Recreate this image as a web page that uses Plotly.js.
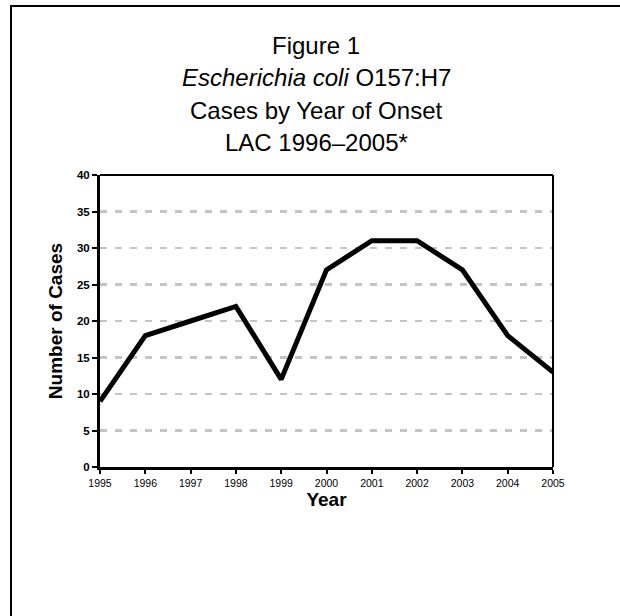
<!DOCTYPE html>
<html>
<head>
<meta charset="utf-8">
<script src="https://cdn.plot.ly/plotly-3.0.1.min.js"></script>
<style>
  html, body { margin: 0; padding: 0; background: #fff; overflow: hidden; }
  #wrap { position: relative; width: 620px; height: 616px; }
  #chart { width: 620px; height: 616px; }
  #frame { position: absolute; left: 10px; top: 5px; width: 700px; height: 700px;
           border: 2px solid #000; pointer-events: none; }
</style>
</head>
<body>
<div id="wrap">
  <div id="chart"></div>
  <div id="frame"></div>
</div>
<script>
const years = [1995, 1996, 1997, 1998, 1999, 2000, 2001, 2002, 2003, 2004, 2005];
const cases = [9, 18, 20, 22, 12, 27, 31, 31, 27, 18, 13];
const yTicks = [0, 5, 10, 15, 20, 25, 30, 35, 40];
const titleLines = [
  "Figure 1",
  "<i>Escherichia coli</i> O157:H7",
  "Cases by Year of Onset",
  "LAC 1996–2005*"
];
const titleCenters = [46, 78, 110, 142]; // pixel centres from top

const font = "Arial, 'Liberation Sans', Helvetica, sans-serif";
const W = 620, H = 616;
const M = { l: 100, r: 67, t: 175, b: 149 };
const plotH = H - M.t - M.b;
const plotW = W - M.l - M.r;
function pyToPaper(py) { return (H - M.b - py) / plotH; }
function pxToPaper(px) { return (px - M.l) / plotW; }

const trace = {
  x: years, y: cases, type: 'scatter', mode: 'lines',
  line: { color: '#000', width: 5 },
  hoverinfo: 'skip'
};

const annotations = titleLines.map((t, i) => ({
  text: t, xref: 'paper', yref: 'paper', x: pxToPaper(316), xanchor: 'center',
  y: pyToPaper(titleCenters[i]), yanchor: 'middle', showarrow: false,
  font: { family: font, size: 24, color: '#000' }
}));

const layout = {
  width: W, height: H,
  margin: M,
  paper_bgcolor: '#fff', plot_bgcolor: '#fff',
  showlegend: false,
  font: { family: font, color: '#000' },
  xaxis: {
    range: [1995, 2005],
    tickmode: 'array', tickvals: years, ticktext: years.map(String),
    ticks: 'outside', ticklen: 4, tickwidth: 2, tickcolor: '#000',
    tickfont: { family: font, size: 10.5, color: '#000' },
    showline: true, linecolor: '#000', linewidth: 3,
    showgrid: false, zeroline: false,
    title: { text: '<b>Year</b>', font: { family: font, size: 19, color: '#000' }, standoff: 4 }
  },
  yaxis: {
    range: [0, 40],
    tickmode: 'array', tickvals: yTicks,
    ticks: 'outside', ticklen: 5, tickwidth: 2, tickcolor: '#000',
    tickfont: { family: font, size: 11.5, color: '#000', weight: 'bold' },
    showline: true, linecolor: '#000', linewidth: 3,
    showgrid: true, gridcolor: '#c4c4c4', gridwidth: 2.5, griddash: '7px,8px',
    zeroline: false,
    title: { text: '<b>Number of Cases</b>', font: { family: font, size: 19, color: '#000' }, standoff: 10 }
  },
  shapes: [
    { type: 'line', xref: 'paper', yref: 'paper', x0: 0, x1: 1, y0: 1, y1: 1,
      line: { color: '#000', width: 2 } },
    { type: 'line', xref: 'paper', yref: 'paper', x0: 1, x1: 1, y0: 0, y1: 1,
      line: { color: '#000', width: 2 } }
  ],
  annotations: annotations
};

Plotly.newPlot('chart', [trace], layout, { displayModeBar: false, staticPlot: true });
</script>
</body>
</html>
